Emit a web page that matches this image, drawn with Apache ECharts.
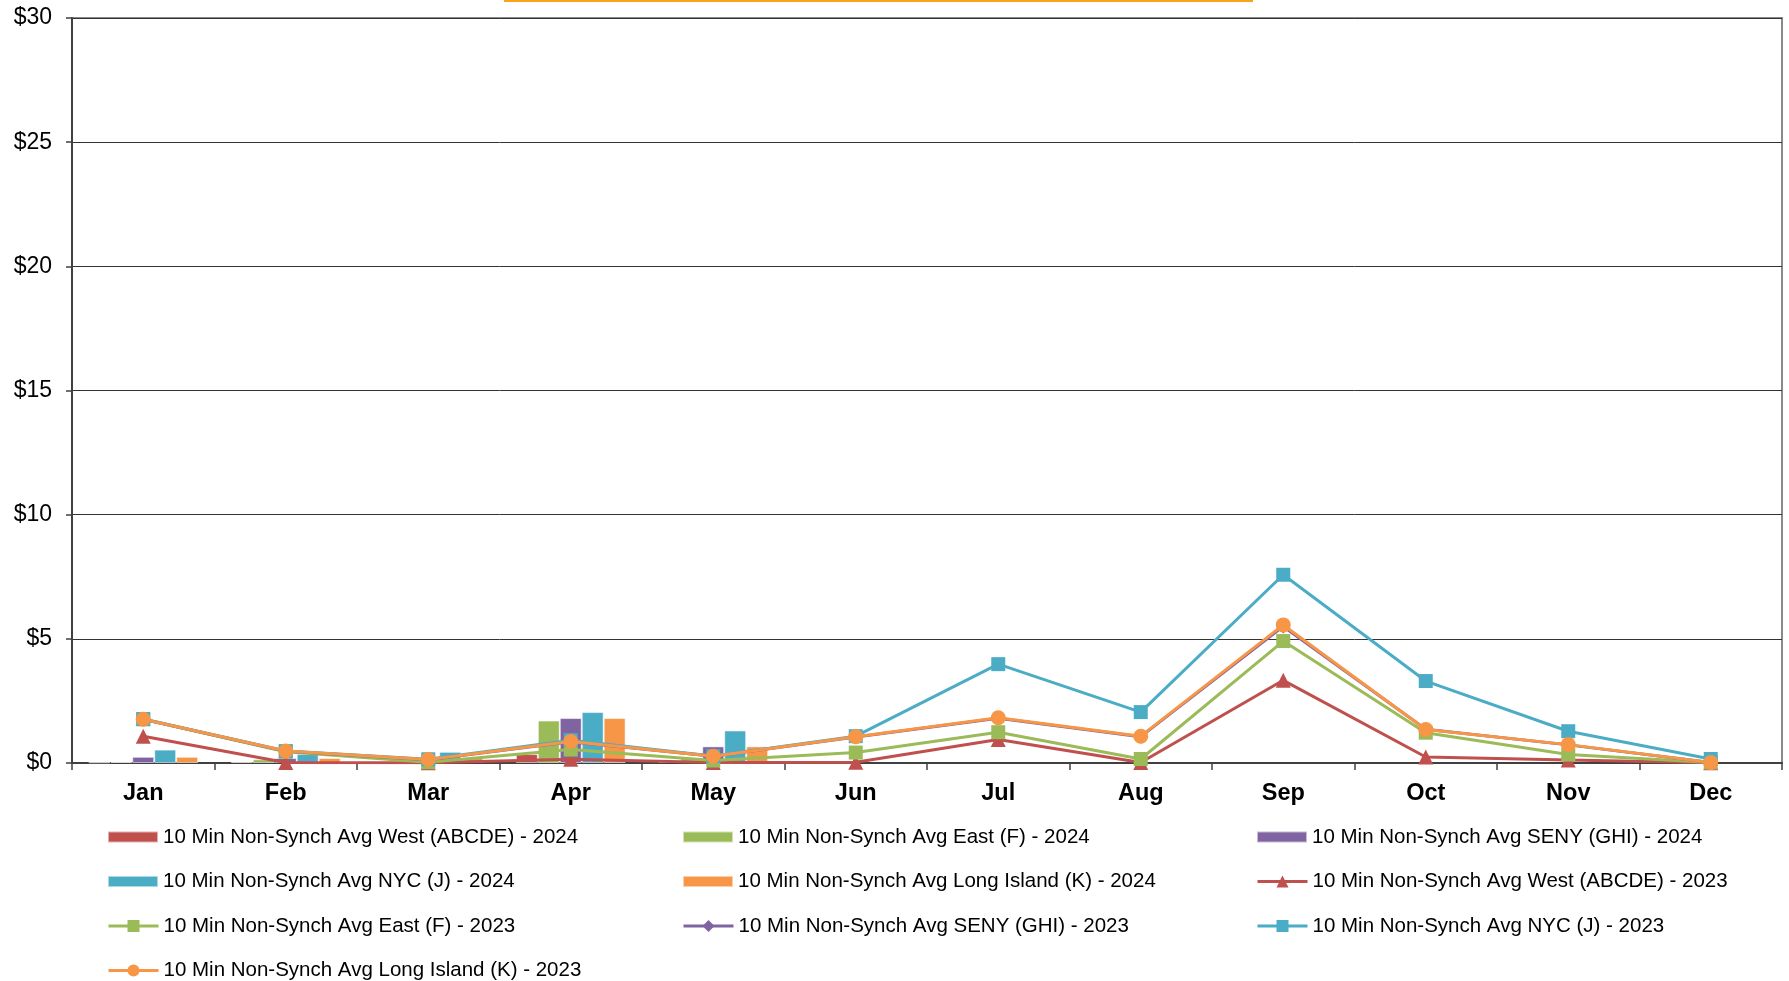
<!DOCTYPE html>
<html>
<head>
<meta charset="utf-8">
<script src="https://cdn.jsdelivr.net/npm/echarts@6/dist/echarts.min.js"></script>
<style>
html,body{margin:0;padding:0;background:#fff;}
#chart{width:1789px;height:981px;}
</style>
</head>
<body>
<div id="chart"></div>
<script>
const months = ['Jan','Feb','Mar','Apr','May','Jun','Jul','Aug','Sep','Oct','Nov','Dec'];
const yTicks = [0, 5, 10, 15, 20, 25, 30];

// 2024 (bars) - only Jan-May reported
const west2024 = [0.03, 0.05, 0.06, 0.36, 0.05, null, null, null, null, null, null, null];
const east2024 = [0.04, 0.15, 0.06, 1.71, 0.20, null, null, null, null, null, null, null];
const seny2024 = [0.25, 0.20, 0.10, 1.81, 0.67, null, null, null, null, null, null, null];
const nyc2024  = [0.54, 0.36, 0.45, 2.05, 1.31, null, null, null, null, null, null, null];
const li2024   = [0.25, 0.20, 0.22, 1.81, 0.67, null, null, null, null, null, null, null];

// 2023 (lines)
const west2023 = [1.08, 0.02, 0.01, 0.15, 0.02, 0.03, 0.95, 0.02, 3.33, 0.24, 0.12, 0.01];
const east2023 = [1.76, 0.45, 0.03, 0.54, 0.10, 0.42, 1.24, 0.16, 4.91, 1.22, 0.34, 0.02];
const seny2023 = [1.76, 0.47, 0.13, 0.86, 0.27, 1.05, 1.80, 1.06, 5.50, 1.36, 0.73, 0.02];
const nyc2023  = [1.77, 0.48, 0.15, 0.92, 0.28, 1.08, 3.98, 2.05, 7.58, 3.30, 1.28, 0.16];
const li2023   = [1.76, 0.48, 0.14, 0.87, 0.27, 1.06, 1.82, 1.08, 5.56, 1.35, 0.74, 0.02];

const names = {
  w24: '10 Min Non-Synch Avg West (ABCDE) - 2024',
  e24: '10 Min Non-Synch Avg East (F) - 2024',
  s24: '10 Min Non-Synch Avg SENY (GHI) - 2024',
  n24: '10 Min Non-Synch Avg NYC (J) - 2024',
  l24: '10 Min Non-Synch Avg Long Island (K) - 2024',
  w23: '10 Min Non-Synch Avg West (ABCDE) - 2023',
  e23: '10 Min Non-Synch Avg East (F) - 2023',
  s23: '10 Min Non-Synch Avg SENY (GHI) - 2023',
  n23: '10 Min Non-Synch Avg NYC (J) - 2023',
  l23: '10 Min Non-Synch Avg Long Island (K) - 2023'
};

const C = {red:'#C0504D', green:'#9BBB59', purple:'#8064A2', teal:'#4BACC6', orange:'#F79646'};
const FONT = 'Liberation Sans, Arial, sans-serif';

function bar(name, data, color) {
  return {
    name: name, type: 'bar', data: data,
    barGap: '0%', barCategoryGap: '23%',
    itemStyle: {color: color, borderColor: 'rgba(255,255,255,0.55)', borderWidth: 1},
    emphasis: {disabled: true}, z: 2
  };
}
function line(name, data, color, symbol, size) {
  return {
    name: name, type: 'line', data: data,
    symbol: symbol, symbolSize: size,
    lineStyle: {color: color, width: 3},
    itemStyle: {color: color, borderColor: color, borderWidth: 0},
    emphasis: {disabled: true}, z: 3
  };
}

const legendText = {fontSize: 20.5, color: '#000', fontFamily: FONT};
const colX = [107, 682, 1256];
const rowY = [837, 881.5, 926, 970.5];
// legend layout: [name, column, row, isBar]
const legendItems = [
  [names.w24, 0, 0, true], [names.e24, 1, 0, true], [names.s24, 2, 0, true],
  [names.n24, 0, 1, true], [names.l24, 1, 1, true], [names.w23, 2, 1, false],
  [names.e23, 0, 2, false], [names.s23, 1, 2, false], [names.n23, 2, 2, false],
  [names.l23, 0, 3, false]
];
const legends = legendItems.map(function (it) {
  return {
    left: colX[it[1]], top: rowY[it[2]] - 12, padding: 0,
    itemWidth: 50, itemHeight: it[3] ? 11 : 15, itemGap: 5,
    textStyle: Object.assign({lineHeight: 24, height: 24}, legendText),
    selectedMode: false,
    lineStyle: it[3] ? undefined : {width: 3},
    data: [it[3] ? {name: it[0], icon: 'rect'} : {name: it[0]}]
  };
});

const chart = echarts.init(document.getElementById('chart'), null, {renderer: 'canvas'});
chart.setOption({
  animation: false,
  backgroundColor: '#fff',
  graphic: [{
    type: 'rect', left: 504, top: 0,
    shape: {width: 749, height: 2},
    style: {fill: '#F9A21B'}, silent: true
  }],
  grid: {
    left: 72, right: 7, top: 18, bottom: 218,
    show: true, borderColor: '#8a8a8a', borderWidth: 2, backgroundColor: 'transparent'
  },
  legend: legends,
  xAxis: {
    type: 'category', data: months, boundaryGap: true,
    axisLine: {show: true, lineStyle: {color: '#404040', width: 2}},
    axisTick: {show: true, alignWithLabel: false, length: 7, lineStyle: {color: '#404040', width: 1.5}},
    axisLabel: {fontSize: 23.5, fontWeight: 'bold', color: '#000', fontFamily: FONT, margin: 19},
    splitLine: {show: false}
  },
  yAxis: {
    type: 'value', min: yTicks[0], max: yTicks[yTicks.length - 1], interval: 5,
    axisLine: {show: true, lineStyle: {color: '#404040', width: 2}},
    axisTick: {show: true, length: 6, lineStyle: {color: '#404040', width: 1.5}},
    axisLabel: {fontSize: 23, color: '#000', fontFamily: FONT, margin: 20,
      formatter: function (v) { return '$' + v; }},
    splitLine: {show: true, lineStyle: {color: '#333', width: 1}}
  },
  series: [
    bar(names.w24, west2024, C.red),
    bar(names.e24, east2024, C.green),
    bar(names.s24, seny2024, C.purple),
    bar(names.n24, nyc2024, C.teal),
    bar(names.l24, li2024, C.orange),
    line(names.w23, west2023, C.red, 'triangle', 15),
    line(names.e23, east2023, C.green, 'rect', 14),
    line(names.s23, seny2023, C.purple, 'diamond', 14),
    line(names.n23, nyc2023, C.teal, 'rect', 14),
    line(names.l23, li2023, C.orange, 'circle', 15)
  ]
});
</script>
</body>
</html>
